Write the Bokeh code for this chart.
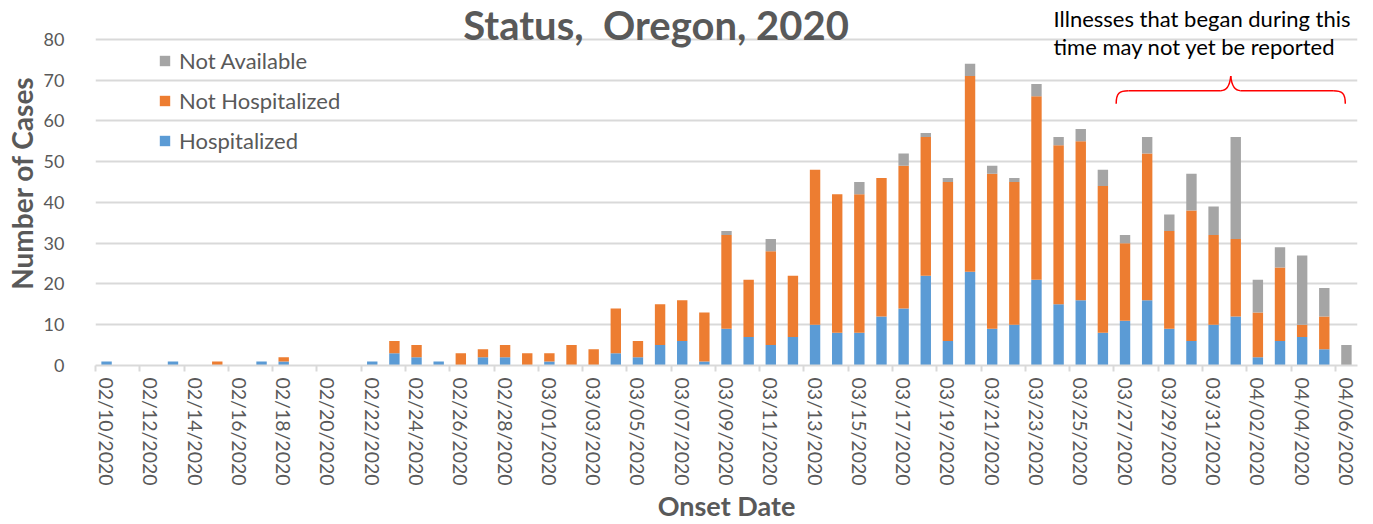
import pandas as pd
from bokeh.plotting import figure
from bokeh.models import (ColumnDataSource, FixedTicker, Legend, LegendItem, Label, Range1d)
from bokeh.embed import file_html
from bokeh.resources import INLINE

# ---------------- data ----------------
dates = pd.date_range("2020-02-10", "2020-04-06").strftime("%m/%d/%Y").tolist()

hospitalized = [1, 0, 0, 1, 0, 0, 0, 1, 1, 0,
                0, 0, 1, 3, 2, 1, 0, 2, 2, 0,
                1, 0, 0, 3, 2, 5, 6, 1, 9, 7,
                5, 7, 10, 8, 8, 12, 14, 22, 6, 23,
                9, 10, 21, 15, 16, 8, 11, 16, 9, 6,
                10, 12, 2, 6, 7, 4, 0]
not_hospitalized = [0, 0, 0, 0, 0, 1, 0, 0, 1, 0,
                    0, 0, 0, 3, 3, 0, 3, 2, 3, 3,
                    2, 5, 4, 11, 4, 10, 10, 12, 23, 14,
                    23, 15, 38, 34, 34, 34, 35, 34, 39, 48,
                    38, 35, 45, 39, 39, 36, 19, 36, 24, 32,
                    22, 19, 11, 18, 3, 8, 0]
not_available = [0, 0, 0, 0, 0, 0, 0, 0, 0, 0,
                 0, 0, 0, 0, 0, 0, 0, 0, 0, 0,
                 0, 0, 0, 0, 0, 0, 0, 0, 1, 0,
                 3, 0, 0, 0, 3, 0, 3, 1, 1, 3,
                 2, 1, 3, 2, 3, 4, 2, 4, 4, 9,
                 7, 25, 8, 5, 17, 7, 5]
y_ticks = [0, 10, 20, 30, 40, 50, 60, 70, 80]

series_names = ["Hospitalized", "Not Hospitalized", "Not Available"]
colors = ["#5B9BD5", "#ED7D31", "#A5A5A5"]

# ---------------- figure ----------------
FONT = "Lato"
GREY_TEXT = "#595959"
GRID = "#D9D9D9"

n = len(dates)
src = ColumnDataSource(dict(x=list(range(n)), h=hospitalized, nh=not_hospitalized, na=not_available))

# frame spans the full height above the axis so the title/notes (drawn as labels) are visible
p = figure(width=1373, height=524, x_range=Range1d(-0.5, n - 0.5), y_range=Range1d(0, 89.5),
           output_backend="svg", toolbar_location=None,
           min_border_left=95, min_border_right=16, min_border_top=0, min_border_bottom=157)
p.outline_line_color = None
p.background_fill_color = "white"
p.border_fill_color = "white"

rs = p.vbar_stack(["h", "nh", "na"], x="x", width=0.47, color=colors, line_color=None, source=src)

# grid
p.xgrid.grid_line_color = None
p.ygrid.grid_line_color = GRID
p.ygrid.grid_line_width = 2
p.ygrid.ticker = FixedTicker(ticks=y_ticks)

# y axis
p.yaxis.ticker = FixedTicker(ticks=y_ticks)
p.yaxis.axis_line_color = None
p.yaxis.major_tick_line_color = None
p.yaxis.minor_tick_line_color = None
p.yaxis.major_label_text_font = FONT
p.yaxis.major_label_text_font_size = "18px"
p.yaxis.major_label_text_color = GREY_TEXT
p.yaxis.major_label_standoff = 25
p.yaxis.axis_label = "Number of Cases"
p.yaxis.axis_label_text_font = FONT
p.yaxis.axis_label_text_font_style = "bold"
p.yaxis.axis_label_text_font_size = "28px"
p.yaxis.axis_label_text_color = GREY_TEXT
p.yaxis.axis_label_standoff = 2

# x axis
label_idx = list(range(0, n, 2))
p.xaxis.ticker = FixedTicker(ticks=label_idx, minor_ticks=[i - 0.5 for i in label_idx])
p.xaxis.major_label_overrides = {i: dates[i] for i in label_idx}
p.xaxis.major_label_orientation = "vertical"
p.xaxis.major_tick_line_color = None
p.xaxis.major_tick_out = 0
p.xaxis.major_tick_in = 0
p.xaxis.minor_tick_line_color = GRID
p.xaxis.minor_tick_line_width = 2
p.xaxis.minor_tick_out = 6
p.xaxis.minor_tick_in = 0
p.xaxis.axis_line_color = GRID
p.xaxis.axis_line_width = 2
p.xaxis.major_label_text_font = FONT
p.xaxis.major_label_text_font_size = "19.5px"
p.xaxis.major_label_text_color = GREY_TEXT
p.xaxis.major_label_standoff = 6
p.xaxis.axis_label = "Onset Date"
p.xaxis.axis_label_text_font = FONT
p.xaxis.axis_label_text_font_style = "bold"
p.xaxis.axis_label_text_font_size = "27px"
p.xaxis.axis_label_text_color = GREY_TEXT
p.xaxis.axis_label_standoff = 0

# legend (top entry: Not Available)
items = [LegendItem(label=series_names[i], renderers=[rs[i]]) for i in (2, 1, 0)]
legend = Legend(items=items, location=(63, 211), orientation="vertical",
                label_text_font=FONT, label_text_font_size="22px", label_text_color=GREY_TEXT,
                glyph_width=13, glyph_height=13, label_height=24, spacing=13, padding=0,
                label_standoff=8, border_line_color=None, background_fill_alpha=0)
p.add_layout(legend, "center")

# title
p.add_layout(Label(x=24.82, y=83.6, text="Status,\u00a0 Oregon, 2020", text_align="center",
                   text_baseline="alphabetic", text_font=FONT, text_font_style="bold",
                   text_font_size="40px", text_color=GREY_TEXT))

# annotation text
p.add_layout(Label(x=42.77, y=85.03, text="Illnesses that began during this", text_align="left",
                   text_baseline="alphabetic", text_font=FONT, text_font_size="22px",
                   text_color="#000000"))
p.add_layout(Label(x=42.77, y=78.3, text="time may not yet be reported", text_align="left",
                   text_baseline="alphabetic", text_font=FONT, text_font_size="22px",
                   text_color="#000000"))

# red brace over the recent-onset period
b_left, b_right = 45.6, 55.95
b_mid = (b_left + b_right) / 2
y_low, y_bar, y_tip = 64.2, 67.4, 71.0
p.bezier(x0=[b_left, b_mid, b_mid, b_right],
         y0=[y_low, y_tip, y_tip, y_low],
         x1=[b_left + 0.55, b_mid - 0.45, b_mid + 0.45, b_right - 0.55],
         y1=[y_bar, y_bar, y_bar, y_bar],
         cx0=[b_left, b_mid - 0.03, b_mid + 0.03, b_right],
         cy0=[y_bar - 0.6, y_tip - 1.8, y_tip - 1.8, y_bar - 0.6],
         cx1=[b_left + 0.15, b_mid - 0.15, b_mid + 0.15, b_right - 0.15],
         cy1=[y_bar, y_bar, y_bar, y_bar],
         line_color="#FF0000", line_width=1.5)
p.segment(x0=[b_left + 0.55, b_mid + 0.45], y0=[y_bar, y_bar],
          x1=[b_mid - 0.45, b_right - 0.55], y1=[y_bar, y_bar],
          line_color="#FF0000", line_width=1.5)

open("out.html", "w").write(file_html(p, INLINE))
